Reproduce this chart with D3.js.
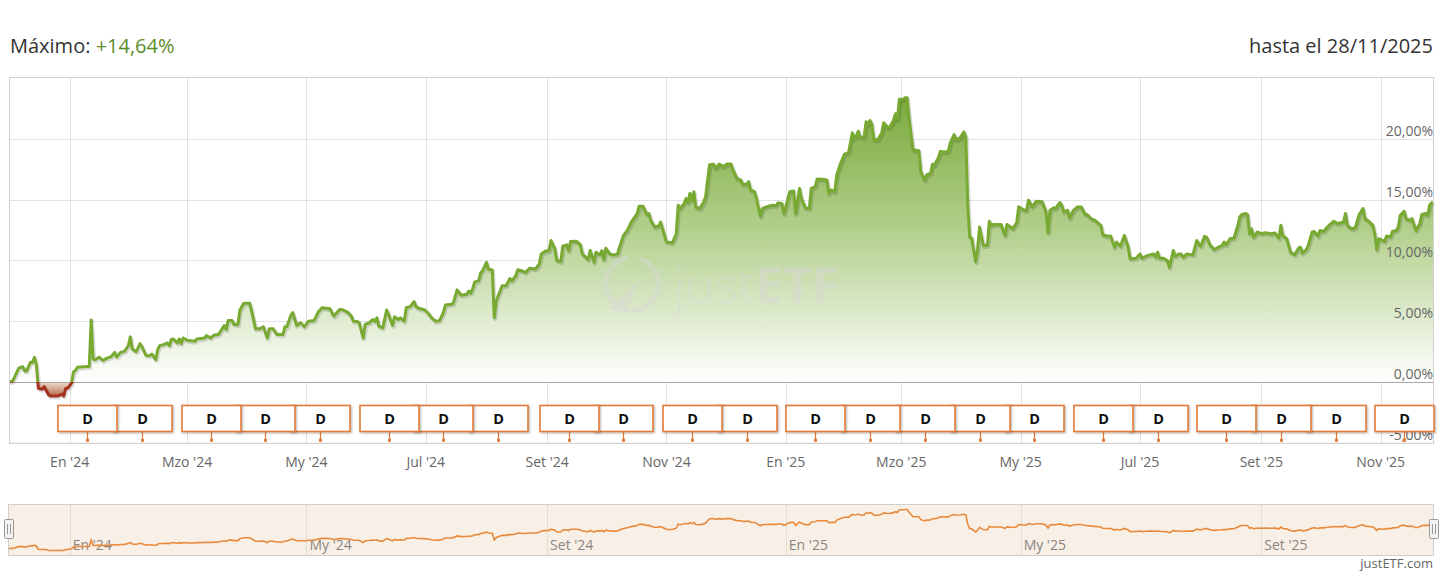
<!DOCTYPE html>
<html><head><meta charset="utf-8">
<script src="https://cdn.jsdelivr.net/npm/d3@7"></script>
<style>
html,body{margin:0;padding:0;background:#fff;}
svg{display:block;font-family:"Open Sans",sans-serif;}
</style></head>
<body>
<svg id="chart" width="1440" height="575"></svg>
<script>
// ---------- DATA ----------
const headerLabel = "Máximo: ";
const headerValue = "+14,64%";
const untilLabel = "hasta el 28/11/2025";
const creditLabel = "justETF.com";
const monthNames = ["En","Feb","Mzo","Abr","My","Jun","Jul","Ago","Set","Oct","Nov","Dic"];
const yTicks = [-5, 0, 5, 10, 15, 20];
const flagText = "D";

const dates = [
"2023-12-01","2023-12-03","2023-12-06","2023-12-08","2023-12-09","2023-12-10","2023-12-12","2023-12-13","2023-12-14","2023-12-15",
"2023-12-16","2023-12-18","2023-12-19","2023-12-21","2023-12-22","2023-12-26","2023-12-28","2023-12-29","2023-12-30","2023-12-31",
"2024-01-02","2024-01-03","2024-01-04","2024-01-05","2024-01-10","2024-01-11","2024-01-12","2024-01-13","2024-01-14","2024-01-16",
"2024-01-18","2024-01-20","2024-01-22","2024-01-24","2024-01-25","2024-01-27","2024-01-29","2024-01-31","2024-02-01","2024-02-02",
"2024-02-04","2024-02-06","2024-02-07","2024-02-09","2024-02-11","2024-02-12","2024-02-14","2024-02-15","2024-02-16","2024-02-18",
"2024-02-20","2024-02-21","2024-02-22","2024-02-23","2024-02-25","2024-02-26","2024-02-27","2024-02-28","2024-03-01","2024-03-05",
"2024-03-06","2024-03-10","2024-03-11","2024-03-13","2024-03-15","2024-03-17","2024-03-20","2024-03-21","2024-03-22","2024-03-24",
"2024-03-25","2024-03-27","2024-03-28","2024-03-30","2024-04-02","2024-04-03","2024-04-05","2024-04-07","2024-04-09","2024-04-11",
"2024-04-12","2024-04-14","2024-04-16","2024-04-19","2024-04-20","2024-04-21","2024-04-23","2024-04-24","2024-04-26","2024-04-28",
"2024-04-30","2024-05-02","2024-05-05","2024-05-07","2024-05-09","2024-05-13","2024-05-15","2024-05-18","2024-05-19","2024-05-22",
"2024-05-24","2024-05-25","2024-05-27","2024-05-28","2024-05-30","2024-05-31","2024-06-02","2024-06-04","2024-06-05","2024-06-06",
"2024-06-07","2024-06-09","2024-06-11","2024-06-12","2024-06-14","2024-06-15","2024-06-17","2024-06-18","2024-06-20","2024-06-21",
"2024-06-23","2024-06-25","2024-06-26","2024-06-28","2024-06-30","2024-07-02","2024-07-04","2024-07-06","2024-07-08","2024-07-10",
"2024-07-11","2024-07-14","2024-07-15","2024-07-17","2024-07-19","2024-07-22","2024-07-23","2024-07-24","2024-07-25","2024-07-26",
"2024-07-28","2024-07-29","2024-07-30","2024-08-01","2024-08-02","2024-08-04","2024-08-05","2024-08-06","2024-08-09","2024-08-11",
"2024-08-13","2024-08-14","2024-08-16","2024-08-17","2024-08-19","2024-08-21","2024-08-23","2024-08-26","2024-08-28","2024-08-29",
"2024-08-31","2024-09-02","2024-09-03","2024-09-05","2024-09-06","2024-09-08","2024-09-09","2024-09-11","2024-09-12","2024-09-13",
"2024-09-16","2024-09-18","2024-09-19","2024-09-22","2024-09-23","2024-09-25","2024-09-26","2024-09-28","2024-09-29","2024-09-30",
"2024-10-01","2024-10-03","2024-10-05","2024-10-07","2024-10-08","2024-10-10","2024-10-12","2024-10-14","2024-10-17","2024-10-18",
"2024-10-20","2024-10-22","2024-10-23","2024-10-24","2024-10-26","2024-10-28","2024-10-29","2024-10-30","2024-11-01","2024-11-04",
"2024-11-06","2024-11-07","2024-11-08","2024-11-10","2024-11-11","2024-11-12","2024-11-13","2024-11-14","2024-11-15","2024-11-16",
"2024-11-18","2024-11-20","2024-11-21","2024-11-23","2024-11-25","2024-11-26","2024-11-28","2024-11-30","2024-12-02","2024-12-04",
"2024-12-05","2024-12-07","2024-12-09","2024-12-10","2024-12-12","2024-12-13","2024-12-14","2024-12-16","2024-12-17","2024-12-19",
"2024-12-20","2024-12-22","2024-12-25","2024-12-27","2024-12-28","2024-12-30","2024-12-31","2025-01-01","2025-01-03","2025-01-05",
"2025-01-06","2025-01-08","2025-01-09","2025-01-11","2025-01-13","2025-01-14","2025-01-16","2025-01-17","2025-01-20","2025-01-22",
"2025-01-23","2025-01-24","2025-01-26","2025-01-27","2025-01-29","2025-01-31","2025-02-02","2025-02-03","2025-02-04","2025-02-05",
"2025-02-06","2025-02-07","2025-02-08","2025-02-10","2025-02-11","2025-02-12","2025-02-13","2025-02-14","2025-02-15","2025-02-17",
"2025-02-19","2025-02-20","2025-02-22","2025-02-23","2025-02-25","2025-02-26","2025-02-27","2025-02-28","2025-03-02","2025-03-03",
"2025-03-04","2025-03-05","2025-03-07","2025-03-10","2025-03-11","2025-03-13","2025-03-14","2025-03-16","2025-03-17","2025-03-18",
"2025-03-20","2025-03-21","2025-03-23","2025-03-25","2025-03-26","2025-03-28","2025-03-29","2025-03-31","2025-04-02","2025-04-03",
"2025-04-04","2025-04-05","2025-04-06","2025-04-08","2025-04-09","2025-04-10","2025-04-12","2025-04-14","2025-04-15","2025-04-16",
"2025-04-17","2025-04-21","2025-04-23","2025-04-24","2025-04-26","2025-04-27","2025-04-29","2025-04-30","2025-05-03","2025-05-04",
"2025-05-05","2025-05-07","2025-05-09","2025-05-12","2025-05-14","2025-05-15","2025-05-16","2025-05-18","2025-05-19","2025-05-21",
"2025-05-22","2025-05-23","2025-05-25","2025-05-26","2025-05-28","2025-05-30","2025-06-01","2025-06-03","2025-06-04","2025-06-06",
"2025-06-08","2025-06-11","2025-06-12","2025-06-14","2025-06-16","2025-06-18","2025-06-19","2025-06-21","2025-06-23","2025-06-25",
"2025-06-26","2025-06-29","2025-07-01","2025-07-02","2025-07-04","2025-07-06","2025-07-08","2025-07-09","2025-07-10","2025-07-11",
"2025-07-13","2025-07-15","2025-07-16","2025-07-18","2025-07-19","2025-07-21","2025-07-22","2025-07-23","2025-07-25","2025-07-28",
"2025-07-30","2025-08-01","2025-08-03","2025-08-04","2025-08-06","2025-08-08","2025-08-10","2025-08-12","2025-08-13","2025-08-14",
"2025-08-16","2025-08-18","2025-08-20","2025-08-21","2025-08-22","2025-08-24","2025-08-25","2025-08-26","2025-08-27","2025-08-28",
"2025-08-30","2025-09-01","2025-09-03","2025-09-06","2025-09-08","2025-09-10","2025-09-11","2025-09-12","2025-09-14","2025-09-16",
"2025-09-18","2025-09-20","2025-09-21","2025-09-22","2025-09-24","2025-09-25","2025-09-27","2025-09-28","2025-09-30","2025-10-01",
"2025-10-03","2025-10-04","2025-10-06","2025-10-08","2025-10-10","2025-10-13","2025-10-14","2025-10-15","2025-10-17","2025-10-19",
"2025-10-21","2025-10-23","2025-10-24","2025-10-26","2025-10-28","2025-10-29","2025-10-30","2025-10-31","2025-11-01","2025-11-03",
"2025-11-04","2025-11-06","2025-11-07","2025-11-09","2025-11-10","2025-11-11","2025-11-13","2025-11-14","2025-11-16","2025-11-17",
"2025-11-19","2025-11-21","2025-11-22","2025-11-24","2025-11-25","2025-11-26","2025-11-27","2025-11-28"
];

const values = [
0,0.1,1.14,1.27,0.91,0.91,1.63,1.6,2.02,1.4,
-0.52,-0.6,-0.39,-1.0,-1.16,-1.16,-1.0,-1.16,-0.52,-0.52,
-0.1,0.86,0.94,1.22,1.27,1.27,5.09,1.88,1.83,2.04,
1.77,1.96,2.05,2.43,2.05,2.43,2.52,2.99,3.71,2.71,
2.49,3.15,2.88,2.18,2.16,2.3,1.83,2.66,2.99,3.07,
3.21,2.99,3.49,3.54,3.21,3.54,3.15,3.62,3.43,3.35,
3.54,3.62,3.82,3.62,3.87,3.9,4.65,4.32,5.06,5.06,
4.73,4.73,5.92,6.47,6.47,5.84,4.37,4.37,4.54,3.62,
4.37,4.37,3.9,3.9,4.54,4.54,5.48,5.7,4.65,4.87,
4.54,5.0,5.06,5.75,6.11,6.03,5.42,5.97,5.97,5.75,
5.4,5.0,4.98,4.87,3.62,4.73,4.87,5.14,4.98,5.28,
4.59,4.45,5.92,5.56,4.65,5.37,5.14,5.28,5.0,6.11,
6.2,6.61,6.2,6.03,5.97,5.7,5.28,5.0,5.04,5.7,
6.33,6.39,6.47,7.58,7.14,7.22,7.49,7.3,7.69,8.24,
8.32,8.96,9.15,9.85,9.29,9.21,5.28,6.66,7.91,7.91,
8.51,8.32,8.74,9.24,9.15,9.01,9.35,9.29,9.71,10.54,
10.76,10.82,11.64,10.95,9.99,9.9,11.17,11.29,10.82,11.56,
11.59,11.29,10.54,10.07,10.82,9.85,10.68,10.46,10.82,10.07,
11.0,10.54,10.46,10.54,11.09,12.06,12.47,13.16,13.86,14.47,
14.47,13.78,13.86,13.3,12.75,12.84,13.16,12.61,11.51,11.45,
12.2,14.55,14.27,14.69,15.1,14.77,15.52,14.96,15.66,14.41,
14.27,14.8,15.24,17.87,17.93,17.6,17.93,17.73,17.93,17.93,
17.45,16.76,16.62,16.27,16.27,16.49,15.8,15.66,15.1,13.64,
14.27,14.41,14.55,14.5,14.74,14.69,13.86,14.41,15.66,15.71,
13.86,15.93,15.1,14.33,14.27,15.93,16.07,16.7,16.68,16.62,
15.52,15.8,15.66,17.04,18.0,18.76,18.84,19.67,20.5,20.08,
20.22,20.64,20.14,20.14,21.41,21.19,21.52,21.19,19.94,19.94,
20.5,21.33,20.97,20.97,21.52,22.07,21.6,23.26,23.26,23.4,
23.4,21.74,19.11,19.03,17.31,16.62,17.04,17.18,17.93,17.87,
18.48,18.98,18.92,18.98,19.67,20.36,19.94,20.08,20.58,20.14,
14.55,11.93,11.84,9.9,10.95,12.75,11.23,11.23,13.22,12.89,
12.95,12.95,12.06,12.95,12.75,12.61,13.11,14.41,14.13,14.13,
14.96,14.41,14.88,14.83,14.0,12.28,14.13,14.33,14.3,14.77,
14.55,14.0,14.13,13.5,14.13,14.41,14.4,13.78,13.78,13.44,
13.3,12.89,12.12,12.01,12.01,11.09,11.51,11.17,12.06,11.09,
10.12,10.18,10.54,10.18,10.35,10.46,10.54,10.26,10.68,10.18,
10.18,9.99,9.43,10.82,10.35,10.54,10.54,10.26,10.54,10.46,
11.64,11.17,11.98,11.92,11.23,10.9,11.09,11.23,11.51,11.29,
11.78,11.84,12.89,13.58,13.78,13.86,13.78,12.2,12.61,11.92,
12.34,12.2,12.28,12.2,12.26,11.84,12.89,12.06,11.78,10.68,
10.46,11.01,11.09,10.59,10.9,11.23,12.34,12.39,12.01,12.47,
12.39,12.61,12.95,13.22,13.03,13.16,13.86,12.89,12.61,12.67,
13.78,14.27,13.44,13.22,12.89,12.2,10.9,11.78,11.73,11.56,
12.01,11.92,12.39,12.47,12.75,13.72,14.05,13.44,13.3,13.44,
12.47,13.03,13.78,13.86,13.72,14.55,14.74,14.64
];

const dividendDates = [
"2024-01-10","2024-02-07","2024-03-13","2024-04-10","2024-05-08","2024-06-12",
"2024-07-10","2024-08-07","2024-09-12","2024-10-10","2024-11-14","2024-12-12",
"2025-01-16","2025-02-13","2025-03-13","2025-04-10","2025-05-08","2025-06-12",
"2025-07-10","2025-08-14","2025-09-11","2025-10-09","2025-11-13"
];

// ---------- CHART ----------
const parse = d3.timeParse("%Y-%m-%d");
const series = dates.map((d, i) => ({date: parse(d), value: values[i]}));
const flags = dividendDates.map(parse);

const svg = d3.select("#chart");
const plot = {left: 9, right: 1433.5, top: 77, bottom: 442.7};
const nav = {top: 504.5, bottom: 555.5};

const x = d3.scaleTime()
  .domain([series[0].date, series[series.length - 1].date])
  .range([plot.left, plot.right]);
const y = d3.scaleLinear().domain([-5, 25.1]).range([plot.bottom, plot.top]);
const y0 = y(0);

const fmtMonth = d => monthNames[d.getMonth()] + " '" + String(d.getFullYear()).slice(2);
const fmtPct = v => v.toFixed(2).replace(".", ",") + "%";

const defs = svg.append("defs");
const gGreen = defs.append("linearGradient").attr("id", "gGreen")
  .attr("gradientUnits", "userSpaceOnUse").attr("x1", 0).attr("x2", 0)
  .attr("y1", y(23.5)).attr("y2", y0);
gGreen.append("stop").attr("offset", 0).attr("stop-color", "#7aaa3c");
gGreen.append("stop").attr("offset", 0.45).attr("stop-color", "#b0ce88");
gGreen.append("stop").attr("offset", 1).attr("stop-color", "#ffffff");
const gRed = defs.append("linearGradient").attr("id", "gRed")
  .attr("gradientUnits", "userSpaceOnUse").attr("x1", 0).attr("x2", 0)
  .attr("y1", y0).attr("y2", y(-1.3));
gRed.append("stop").attr("offset", 0).attr("stop-color", "#f0dccf");
gRed.append("stop").attr("offset", 1).attr("stop-color", "#b0603f");
defs.append("clipPath").attr("id", "clipAbove").append("rect")
  .attr("x", plot.left).attr("y", plot.top).attr("width", plot.right - plot.left).attr("height", y0 - plot.top);
defs.append("clipPath").attr("id", "clipBelow").append("rect")
  .attr("x", plot.left).attr("y", y0).attr("width", plot.right - plot.left).attr("height", plot.bottom - y0);
const sh = defs.append("filter").attr("id", "shadow").attr("x", "-20%").attr("y", "-20%").attr("width", "140%").attr("height", "140%");
sh.append("feDropShadow").attr("dx", 1).attr("dy", 1).attr("stdDeviation", 1).attr("flood-color", "#000").attr("flood-opacity", 0.3);

// Header
const header = svg.append("text").attr("x", 10).attr("y", 53).attr("font-size", 20).attr("fill", "#333");
header.append("tspan").text(headerLabel);
header.append("tspan").attr("fill", "#5b8d2a").text(headerValue);
svg.append("text").attr("x", 1433).attr("y", 53).attr("font-size", 20).attr("fill", "#333")
  .attr("text-anchor", "end").text(untilLabel);

// Grid
const xTicks = x.ticks(d3.timeMonth.every(2));
svg.append("g").selectAll("line").data(xTicks).join("line")
  .attr("x1", d => Math.round(x(d)) + 0.5).attr("x2", d => Math.round(x(d)) + 0.5)
  .attr("y1", plot.top).attr("y2", plot.bottom).attr("stroke", "#e2e2e2");
svg.append("g").selectAll("line").data(yTicks.filter(v => v !== 0)).join("line")
  .attr("x1", plot.left).attr("x2", plot.right)
  .attr("y1", d => Math.round(y(d)) + 0.5).attr("y2", d => Math.round(y(d)) + 0.5).attr("stroke", "#e2e2e2");

// Areas
const area = d3.area().x(d => x(d.date)).y0(y0).y1(d => y(d.value));
const line = d3.line().x(d => x(d.date)).y(d => y(d.value));
svg.append("path").datum(series).attr("d", area).attr("fill", "url(#gGreen)").attr("clip-path", "url(#clipAbove)");
svg.append("path").datum(series).attr("d", area).attr("fill", "url(#gRed)").attr("clip-path", "url(#clipBelow)");

// Watermark
const wm = svg.append("g").attr("opacity", 0.45);
wm.append("path").attr("d", d3.arc().innerRadius(24).outerRadius(29).startAngle(0.35).endAngle(2 * Math.PI - 0.15)())
  .attr("transform", "translate(632,284)").attr("fill", "#d8d8d8");
wm.append("path").attr("d", "M608,309 L640,279 L626,312 Z").attr("fill", "#d8d8d8");
const wmt = wm.append("text").attr("x", 674).attr("y", 303).attr("font-size", 50).attr("fill", "#d8d8d8");
wmt.append("tspan").attr("font-weight", 300).text("just");
wmt.append("tspan").attr("font-weight", 700).text("ETF");

// Zero line
svg.append("line").attr("x1", plot.left).attr("x2", plot.right)
  .attr("y1", Math.round(y0) + 0.5).attr("y2", Math.round(y0) + 0.5).attr("stroke", "#a6a6a6");

// Lines
svg.append("path").datum(series).attr("d", line).attr("fill", "none")
  .attr("stroke", "rgba(0,0,0,0.13)").attr("stroke-width", 4).attr("transform", "translate(1,1.5)")
  .attr("stroke-linejoin", "round");
svg.append("path").datum(series).attr("d", line).attr("fill", "none")
  .attr("stroke", "#78aa32").attr("stroke-width", 3).attr("stroke-linejoin", "round")
  .attr("clip-path", "url(#clipAbove)");
svg.append("path").datum(series).attr("d", line).attr("fill", "none")
  .attr("stroke", "#a3321f").attr("stroke-width", 3).attr("stroke-linejoin", "round")
  .attr("clip-path", "url(#clipBelow)");

// Plot border
svg.append("rect").attr("x", plot.left + 0.5).attr("y", plot.top + 0.5)
  .attr("width", plot.right - plot.left - 0.5).attr("height", plot.bottom - plot.top)
  .attr("fill", "none").attr("stroke", "#d0d0d0");

// Y labels
svg.append("g").selectAll("text").data(yTicks).join("text")
  .attr("x", 1433).attr("y", d => y(d) - 3).attr("text-anchor", "end")
  .attr("font-size", 14).attr("fill", "#666").text(fmtPct);

// X labels
svg.append("g").selectAll("text").data(xTicks).join("text")
  .attr("x", d => x(d)).attr("y", 467).attr("text-anchor", "middle")
  .attr("font-size", 14).attr("fill", "#666").text(fmtMonth);

// Flags (earlier flags drawn on top)
const boxW = 59, boxTop = 405.5, boxH = 26;
const fg = svg.append("g").selectAll("g").data(flags.slice().reverse()).join("g")
  .attr("transform", d => `translate(${Math.round(x(d)) + 0.5},0)`);
fg.append("line").attr("x1", 0).attr("x2", 0).attr("y1", boxTop + boxH).attr("y2", plot.bottom - 1)
  .attr("stroke", "#e07b39").attr("stroke-width", 1.2);
fg.append("rect").attr("x", -1.5).attr("y", plot.bottom - 4).attr("width", 3).attr("height", 3).attr("fill", "#e07b39");
fg.append("rect").attr("x", -boxW / 2).attr("y", boxTop).attr("width", boxW).attr("height", boxH)
  .attr("fill", "#fff").attr("stroke", "#e07b39").attr("stroke-width", 1.6).attr("filter", "url(#shadow)");
fg.append("text").attr("x", 0).attr("y", boxTop + 18).attr("text-anchor", "middle")
  .attr("font-size", 14.5).attr("font-weight", 700).attr("fill", "#111").text(flagText);

// Navigator
svg.append("rect").attr("x", plot.left - 0.5).attr("y", nav.top).attr("width", plot.right - plot.left + 0.5)
  .attr("height", nav.bottom - nav.top).attr("fill", "#f8f0e7").attr("stroke", "#cfcfcf");
const navTicks = x.ticks(d3.timeMonth.every(4));
svg.append("g").selectAll("line").data(navTicks).join("line")
  .attr("x1", d => Math.round(x(d)) + 0.5).attr("x2", d => Math.round(x(d)) + 0.5)
  .attr("y1", nav.top).attr("y2", nav.bottom).attr("stroke", "#e3dcd4");
svg.append("g").selectAll("text").data(navTicks).join("text")
  .attr("x", d => x(d) + 3).attr("y", 550).attr("font-size", 14).attr("fill", "#8a8580").text(fmtMonth);
const yNav = d3.scaleLinear().domain(d3.extent(values)).range([550.5, 509.5]);
svg.append("path").datum(series).attr("fill", "none").attr("stroke", "#e8893c").attr("stroke-width", 1.6)
  .attr("d", d3.line().x(d => x(d.date)).y(d => yNav(d.value)));
[plot.left - 0.5, plot.right].forEach(hx => {
  const h = svg.append("g").attr("transform", `translate(${Math.round(hx)},0)`);
  h.append("rect").attr("x", -4.5).attr("y", 519.5).attr("width", 9).attr("height", 19)
    .attr("fill", "#f2f2f2").attr("stroke", "#999").attr("rx", 1);
  h.append("line").attr("x1", -1.5).attr("x2", -1.5).attr("y1", 524).attr("y2", 534).attr("stroke", "#999");
  h.append("line").attr("x1", 1.5).attr("x2", 1.5).attr("y1", 524).attr("y2", 534).attr("stroke", "#999");
});

// Credit
svg.append("text").attr("x", 1433).attr("y", 568).attr("text-anchor", "end")
  .attr("font-size", 13).attr("fill", "#666").text(creditLabel);
</script>
</body></html>
